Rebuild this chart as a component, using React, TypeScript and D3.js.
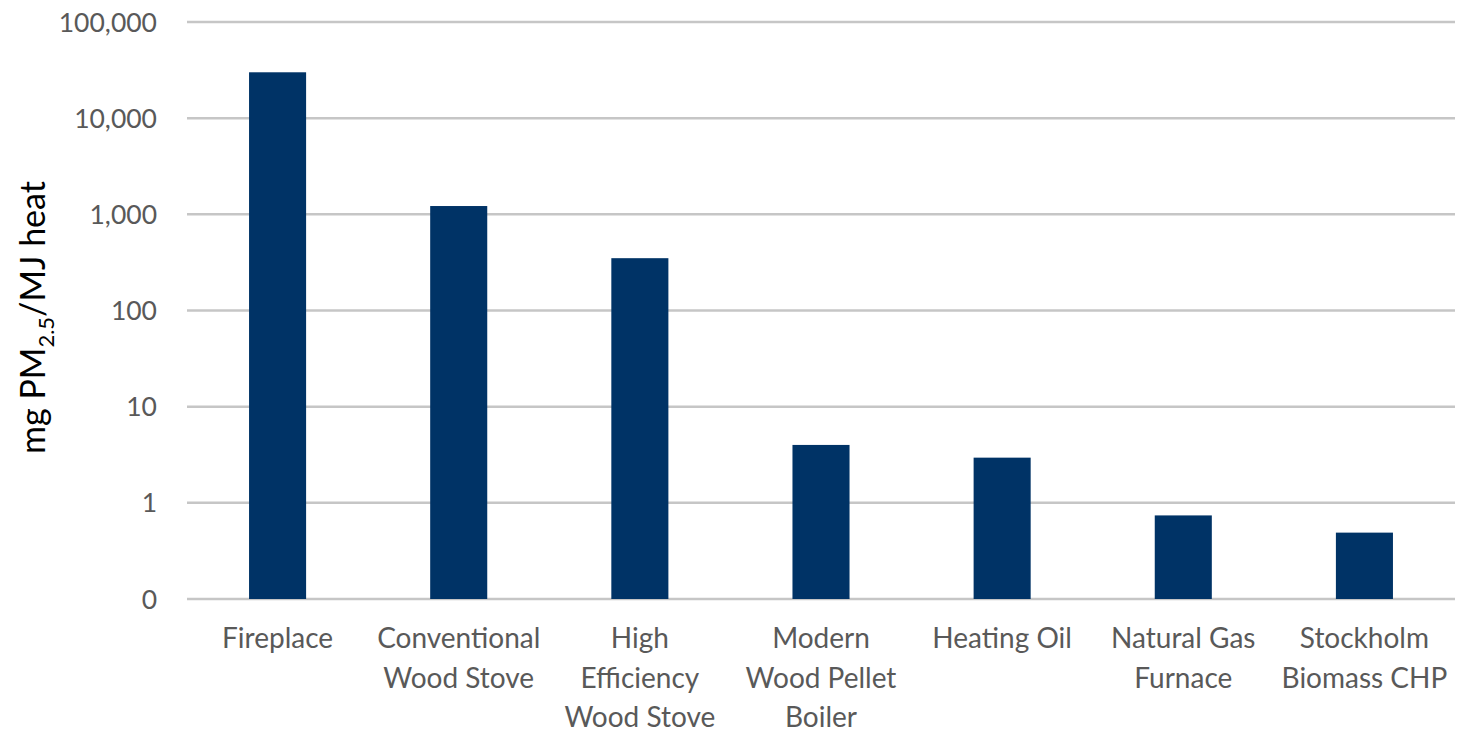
import React from "react";
import * as d3 from "d3";

const categories: string[][] = [
  ["Fireplace"],
  ["Conventional", "Wood Stove"],
  ["High", "Efficiency", "Wood Stove"],
  ["Modern", "Wood Pellet", "Boiler"],
  ["Heating Oil"],
  ["Natural Gas", "Furnace"],
  ["Stockholm", "Biomass CHP"],
];
const values: number[] = [30000, 1220, 350, 4, 2.95, 0.74, 0.49];
const tickValues: number[] = [0.1, 1, 10, 100, 1000, 10000, 100000];
const tickLabels: string[] = ["0", "1", "10", "100", "1,000", "10,000", "100,000"];

const W = 1458;
const H = 732;
const left = 187;
const right = 1455;
const top = 22;
const bottom = 599;
const font = "Lato, 'Open Sans', sans-serif";

export default function App() {
  const x = d3
    .scaleBand<number>()
    .domain(categories.map((_, i) => i))
    .range([left, right])
    .padding(0);
  const y = d3.scaleLog().domain([0.1, 100000]).range([bottom, top]);
  const bw = x.bandwidth() * 0.315;

  return (
    <svg
      width={W}
      height={H}
      style={{ position: "absolute", left: 0, top: 0, background: "#fff" }}
    >
      {tickValues.map((t, i) => (
        <g key={i}>
          <line
            x1={left}
            x2={right}
            y1={y(t)}
            y2={y(t)}
            stroke="#c6c6c6"
            strokeWidth={2.5}
          />
          <text
            x={157}
            y={y(t)}
            dy="0.36em"
            textAnchor="end"
            fontFamily={font}
            fontSize={26.5}
            fill="#595959"
          >
            {tickLabels[i]}
          </text>
        </g>
      ))}
      {values.map((v, i) => {
        const cx = (x(i) as number) + x.bandwidth() / 2;
        return (
          <rect
            key={i}
            x={cx - bw / 2}
            y={y(v)}
            width={bw}
            height={bottom - y(v)}
            fill="#003366"
          />
        );
      })}
      {categories.map((lines, i) => {
        const cx = (x(i) as number) + x.bandwidth() / 2;
        return (
          <text
            key={i}
            x={cx}
            y={648}
            textAnchor="middle"
            fontFamily={font}
            fontSize={28}
            fill="#595959"
          >
            {lines.map((l, j) => (
              <tspan key={j} x={cx} dy={j === 0 ? 0 : 39.5}>
                {l}
              </tspan>
            ))}
          </text>
        );
      })}
      <text
        transform={`translate(45, ${(top + bottom) / 2 + 7}) rotate(-90)`}
        textAnchor="middle"
        fontFamily={font}
        fontSize={34}
        fill="#000"
      >
        mg PM
        <tspan fontSize={22} dy={9}>
          2.5
        </tspan>
        <tspan dy={-9}>/MJ heat</tspan>
      </text>
    </svg>
  );
}
